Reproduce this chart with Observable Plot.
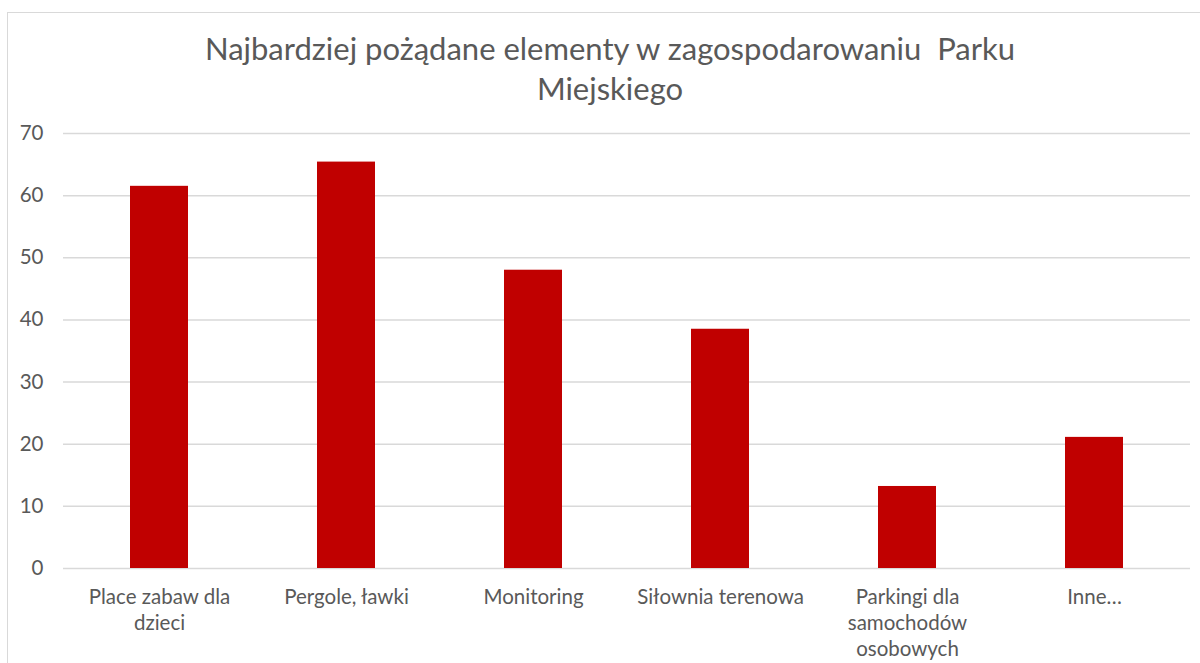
<!DOCTYPE html>
<html>
<head>
<meta charset="utf-8">
<script src="https://cdn.jsdelivr.net/npm/d3@7"></script>
<script src="https://cdn.jsdelivr.net/npm/@observablehq/plot@0.6"></script>
<style>
  html, body { margin: 0; padding: 0; background: #fff; overflow: hidden; }
  #frame { position: absolute; left: 7px; top: 12px; width: 1300px; height: 800px;
           border-left: 1px solid #d9d9d9; border-top: 1px solid #d9d9d9; }
  #title { position: absolute; left: 0; top: 28px; width: 1220px; text-align: center;
           font-family: Lato, sans-serif; font-size: 31px; line-height: 40px; color: #595959; }
  #chart { position: absolute; left: 0; top: 115px; }
</style>
</head>
<body>
<div id="frame"></div>
<div id="title">Najbardziej pożądane elementy w zagospodarowaniu&nbsp; Parku<br>Miejskiego</div>
<div id="chart"></div>
<script>
const categories = ["Place zabaw dla dzieci", "Pergole, ławki", "Monitoring", "Siłownia terenowa", "Parkingi dla samochodów osobowych", "Inne…"];
const tickLabels = ["Place zabaw dla\ndzieci", "Pergole, ławki", "Monitoring", "Siłownia terenowa", "Parkingi dla\nsamochodów\nosobowych", "Inne…"];
const values = [61.5, 65.4, 48.0, 38.5, 13.2, 21.1];
const yTicks = [0, 10, 20, 30, 40, 50, 60, 70];

const data = categories.map((c, i) => ({category: c, value: values[i]}));
const labelOf = new Map(categories.map((c, i) => [c, tickLabels[i]]));

const chart = Plot.plot({
  width: 1200,
  height: 548,
  marginTop: 18,
  marginBottom: 95,
  marginLeft: 63,
  marginRight: 10,
  style: {fontFamily: "Lato, sans-serif", fontSize: "20.5px", color: "#595959", background: "transparent"},
  x: {domain: categories, paddingInner: 0.69, paddingOuter: 0.345, align: 0.5, label: null},
  y: {domain: [0, 70], ticks: yTicks, label: null},
  marks: [
    Plot.gridY(yTicks, {stroke: "#d9d9d9", strokeOpacity: 1, strokeWidth: 1.5}),
    Plot.barY(data, {x: "category", y: "value", fill: "#c00000"}),
    Plot.axisY(yTicks, {tickSize: 0, tickPadding: 20, fill: "#595959", fontSize: 20.5}),
    Plot.axisX({tickSize: 0, tickPadding: 17, tickFormat: d => labelOf.get(d), lineHeight: 1.27, fill: "#595959", fontSize: 20.5})
  ]
});
document.getElementById("chart").appendChild(chart);
</script>
</body>
</html>
